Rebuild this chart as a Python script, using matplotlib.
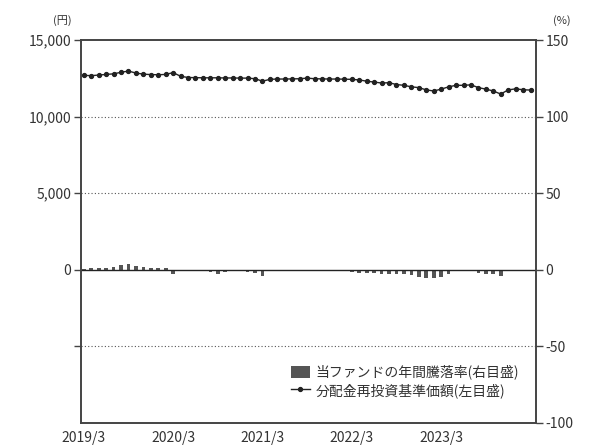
import matplotlib
matplotlib.use("Agg")
import matplotlib.pyplot as plt
from matplotlib.patches import Patch
from matplotlib.lines import Line2D
import numpy as np

plt.rcParams['font.family'] = ['Noto Sans CJK JP', 'DejaVu Sans']

# monthly NAV (distribution reinvested), 2019/3 .. 2024/3
nav = [12700, 12680, 12720, 12760, 12800, 12900, 12980, 12850, 12780, 12750,
       12740, 12760, 12880, 12640, 12560, 12550, 12540, 12540, 12540, 12530,
       12530, 12520, 12520, 12480, 12320, 12440, 12460, 12460, 12470, 12480,
       12520, 12480, 12470, 12460, 12460, 12450, 12440, 12400, 12320, 12260,
       12200, 12220, 12100, 12050, 11950, 11900, 11750, 11680, 11800, 11950,
       12050, 12050, 12080, 11900, 11800, 11680, 11480, 11750, 11820, 11760,
       11740]
# annual return rate (%), monthly
ret = [0.5, 1.0, 1.5, 1.5, 2.0, 3.0, 3.5, 2.5, 2.0, 1.5,
       1.0, 1.0, -3.0, 0, 0, -0.5, -1.0, -1.5, -3.0, -1.5,
       -1.0, -1.0, -1.5, -2.0, -4.0, -1.0, 0, 0, 0, 0,
       0, 0, 0, 0, 0, 0, -1.5, -2.0, -2.0, -2.0,
       -2.5, -2.5, -3.0, -3.0, -3.5, -4.5, -5.0, -5.0, -4.5, -3.0,
       0, 0, 0, -2.0, -3.0, -3.0, -4.0, 0, 0, 0,
       0]
xlabels = ['2019/3', '2020/3', '2021/3', '2022/3', '2023/3']
x = np.arange(len(nav))

fig = plt.figure(figsize=(5.9, 4.46), dpi=100)
ax = fig.add_axes([0.137, 0.0516, 0.771, 0.8584])
ax2 = ax.twinx()

ax.set_ylim(-10000, 15000)
ax2.set_ylim(-100, 150)
ax.set_xlim(-0.4, 60.7)

for v in [10000, 5000, -5000]:
    ax.axhline(v, color='#555555', lw=0.8, ls=(0, (1, 2)), zorder=0)
ax.axhline(0, color='#222222', lw=1.0, zorder=1)

ax2.bar(x, ret, width=0.5, color='#555555', zorder=2)
ax.plot(x, nav, color='#222222', lw=1.0, marker='o', ms=2.8, zorder=3)
ax.set_zorder(ax2.get_zorder() + 1)
ax.patch.set_visible(False)

ax.set_yticks([-5000, 0, 5000, 10000, 15000])
ax.set_yticklabels(['', '0', '5,000', '10,000', '15,000'])
ax2.set_yticks([-100, -50, 0, 50, 100, 150])
ax2.set_yticklabels(['-100', '-50', '0', '50', '100', '150'])
ax.set_xticks([0, 12, 24, 36, 48])
ax.set_xticklabels(xlabels)

for a in (ax, ax2):
    for s in a.spines.values():
        s.set_color('#444444')
        s.set_linewidth(1.2)
ax.tick_params(axis='y', direction='out', length=5, width=1, color='#444444', labelsize=10, labelcolor='#333333', pad=2)
ax2.tick_params(axis='y', direction='out', length=5, width=1, color='#444444', labelsize=10, labelcolor='#333333', pad=2)
ax.tick_params(axis='x', length=0, labelsize=10, labelcolor='#333333', pad=6)

fig.text(0.105, 0.955, '(円)', fontsize=8, ha='center', va='center', color='#333333')
fig.text(0.952, 0.955, '(%)', fontsize=8, ha='center', va='center', color='#333333')

handles = [Patch(facecolor='#555555', edgecolor='none'),
           Line2D([0], [0], color='#222222', lw=1.0, marker='o', ms=2.8)]
labels = ['当ファンドの年間騰落率(右目盛)', '分配金再投資基準価額(左目盛)']
ax.legend(handles, labels, loc='lower right', bbox_to_anchor=(0.985, 0.04), frameon=False,
          fontsize=10, handlelength=1.4, handleheight=1.0, handletextpad=0.4, labelspacing=0.25,
          labelcolor='#333333', borderpad=0.2)

fig.savefig('out.png', dpi=100)
